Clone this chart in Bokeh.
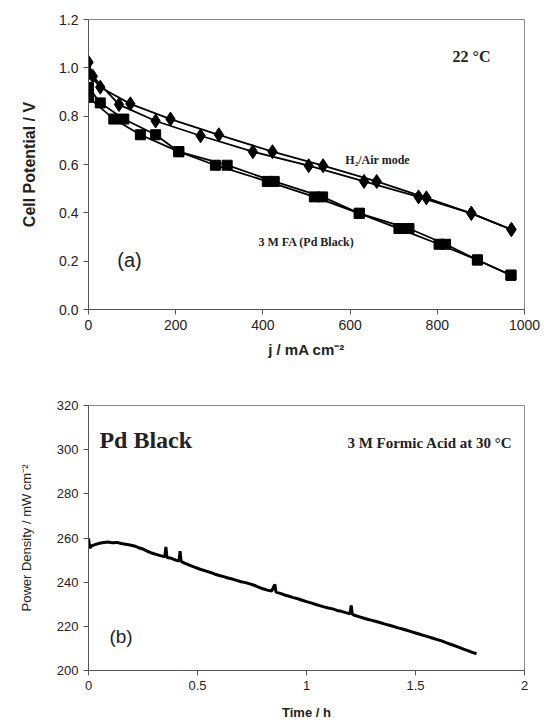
from bokeh.plotting import figure
from bokeh.layouts import column
from bokeh.models import Range1d, FixedTicker, Label
from bokeh.embed import file_html
from bokeh.resources import INLINE

# ---- panel (a) data: polarization curves ----
h2_j_a = [0, 27, 96, 188, 299, 422, 538, 661, 775, 878, 970]
h2_v_a = [0.977, 0.920, 0.851, 0.788, 0.723, 0.653, 0.595, 0.530, 0.462, 0.398, 0.331]
h2_j_b = [0, 10, 70, 154, 257, 377, 505, 632, 757, 878, 970]
h2_v_b = [1.023, 0.965, 0.848, 0.780, 0.719, 0.653, 0.595, 0.530, 0.466, 0.398, 0.331]

fa_j_a = [0, 27, 81, 154, 207, 318, 426, 537, 621, 735, 819, 892, 969]
fa_v_a = [0.919, 0.855, 0.788, 0.723, 0.653, 0.597, 0.530, 0.466, 0.398, 0.335, 0.270, 0.205, 0.142]
fa_j_b = [0, 58, 119, 207, 291, 410, 518, 621, 712, 804, 892, 969]
fa_v_b = [0.878, 0.788, 0.723, 0.653, 0.597, 0.530, 0.466, 0.398, 0.335, 0.270, 0.205, 0.142]

a_xticks = [0, 200, 400, 600, 800, 1000]
a_xlabels = ["0", "200", "400", "600", "800", "1000"]
a_yticks = [0.0, 0.2, 0.4, 0.6, 0.8, 1.0, 1.2]
a_ylabels = ["0.0", "0.2", "0.4", "0.6", "0.8", "1.0", "1.2"]

# ---- panel (b) data: power density vs time ----
time_h = [0.000, 0.006, 0.015, 0.03, 0.05, 0.07, 0.09, 0.11, 0.13, 0.15, 0.17, 0.19,
          0.21, 0.23, 0.25, 0.27, 0.29, 0.31, 0.33, 0.35, 0.355, 0.36, 0.38, 0.40,
          0.415, 0.42, 0.425, 0.44, 0.46, 0.48, 0.50, 0.52, 0.54, 0.56, 0.58, 0.60,
          0.62, 0.64, 0.66, 0.68, 0.70, 0.72, 0.74, 0.76, 0.78, 0.80, 0.82, 0.84,
          0.855, 0.86, 0.88, 0.90, 0.92, 0.94, 0.96, 0.98, 1.00, 1.02, 1.04, 1.06,
          1.08, 1.10, 1.12, 1.14, 1.16, 1.18, 1.20, 1.205, 1.21, 1.22, 1.24, 1.26,
          1.28, 1.30, 1.32, 1.34, 1.36, 1.38, 1.40, 1.42, 1.44, 1.46, 1.48, 1.50,
          1.52, 1.54, 1.56, 1.58, 1.60, 1.62, 1.64, 1.66, 1.68, 1.70, 1.72, 1.74,
          1.76, 1.78]
power = [259.8, 255.5, 256.5, 257.0, 257.6, 258.0, 258.2, 257.8, 258.0, 257.5, 257.2, 256.8,
         256.4, 255.6, 255.0, 254.0, 253.2, 252.6, 252.0, 251.5, 256.0, 251.2, 250.8, 250.0,
         249.6, 254.0, 249.4, 248.6, 247.8, 247.0, 246.3, 245.6, 245.0, 244.4, 243.6, 243.0,
         242.5, 241.9, 241.4, 240.8, 240.2, 239.8, 239.2, 238.6, 237.8, 237.0, 236.4, 236.0,
         239.0, 235.5, 234.9, 234.2, 233.6, 233.0, 232.5, 231.8, 231.2, 230.6, 230.0, 229.4,
         228.8, 228.3, 227.9, 227.2, 226.8, 226.2, 225.7, 229.5, 225.5, 225.0, 224.4, 223.8,
         223.2, 222.7, 222.2, 221.6, 221.0, 220.5, 219.9, 219.3, 218.8, 218.2, 217.6, 217.0,
         216.4, 215.8, 215.2, 214.6, 214.0, 213.4, 212.6, 211.9, 211.2, 210.5, 209.7, 209.0,
         208.2, 207.6]

b_xticks = [0, 0.5, 1, 1.5, 2]
b_xlabels = ["0", "0.5", "1", "1.5", "2"]
b_yticks = [200, 220, 240, 260, 280, 300, 320]
b_ylabels = ["200", "220", "240", "260", "280", "300", "320"]

SANS = "Liberation Sans"
SERIF = "Liberation Serif"
AXC = "#555555"
TXT = "#222222"


def style(p, xt, xl, yt, yl, label_size):
    p.outline_line_color = "#888888"
    p.outline_line_width = 1
    p.xgrid.visible = False
    p.ygrid.visible = False
    for ax in (p.xaxis[0], p.yaxis[0]):
        ax.axis_line_color = AXC
        ax.major_tick_line_color = AXC
        ax.major_tick_in = 0
        ax.major_tick_out = 5
        ax.minor_tick_line_color = None
        ax.major_label_text_font = SANS
        ax.major_label_text_font_size = label_size
        ax.major_label_text_color = TXT
        ax.axis_label_text_font = SANS
        ax.axis_label_text_color = TXT
        ax.axis_label_text_font_style = "bold"
    p.xaxis[0].ticker = FixedTicker(ticks=xt)
    p.xaxis[0].major_label_overrides = {t: l for t, l in zip(xt, xl)}
    p.yaxis[0].ticker = FixedTicker(ticks=yt)
    p.yaxis[0].major_label_overrides = {t: l for t, l in zip(yt, yl)}


# ---------------- panel (a) ----------------
pa = figure(width=544, height=360, output_backend="svg", toolbar_location=None,
            x_range=Range1d(0, 1000), y_range=Range1d(0, 1.2),
            min_border_left=88, min_border_right=20, min_border_top=19, min_border_bottom=45)
style(pa, a_xticks, a_xlabels, a_yticks, a_ylabels, "14px")
pa.xaxis[0].axis_label = "j / mA cm⁻²"
pa.xaxis[0].axis_label_text_font_size = "15px"
pa.xaxis[0].axis_label_standoff = 8
pa.yaxis[0].axis_label = "Cell Potential / V"
pa.yaxis[0].axis_label_text_font_size = "16px"
pa.yaxis[0].axis_label_standoff = 18

for xs, ys in ((h2_j_a, h2_v_a), (h2_j_b, h2_v_b)):
    pa.line(xs, ys, line_color="black", line_width=1.8)
    pa.scatter(xs, ys, marker="diamond", size=14, fill_color="black", line_color="black")
for xs, ys in ((fa_j_a, fa_v_a), (fa_j_b, fa_v_b)):
    pa.line(xs, ys, line_color="black", line_width=1.8)
    pa.scatter(xs, ys, marker="square", size=10, fill_color="black", line_color="black")

pa.add_layout(Label(x=835, y=1.046, text="22 °C", text_font=SERIF, text_font_style="bold",
                    text_font_size="16px", text_baseline="middle", text_color=TXT))
pa.add_layout(Label(x=589, y=0.62, text="H₂/Air mode", text_font=SERIF, text_font_style="bold",
                    text_font_size="12px", text_baseline="middle", text_color=TXT))
pa.add_layout(Label(x=390, y=0.28, text="3 M FA (Pd Black)", text_font=SERIF, text_font_style="bold",
                    text_font_size="12px", text_baseline="middle", text_color=TXT))
pa.add_layout(Label(x=66, y=0.203, text="(a)", text_font=SANS,
                    text_font_size="20px", text_baseline="middle", text_color=TXT))

# ---------------- panel (b) ----------------
pb = figure(width=544, height=364, output_backend="svg", toolbar_location=None,
            x_range=Range1d(0, 2), y_range=Range1d(200, 320),
            min_border_left=88, min_border_right=16, min_border_top=45, min_border_bottom=54)
style(pb, b_xticks, b_xlabels, b_yticks, b_ylabels, "13px")
pb.xaxis[0].axis_label = "Time / h"
pb.xaxis[0].axis_label_text_font_size = "13px"
pb.xaxis[0].axis_label_standoff = 12
pb.yaxis[0].axis_label = "Power Density / mW cm⁻²"
pb.yaxis[0].axis_label_text_font_size = "13px"
pb.yaxis[0].axis_label_text_font_style = "normal"
pb.yaxis[0].axis_label_standoff = 20

pb.line(time_h, power, line_color="black", line_width=3)

pb.add_layout(Label(x=0.05, y=304.2, text="Pd Black", text_font=SERIF, text_font_style="bold",
                    text_font_size="24px", text_baseline="middle", text_color=TXT))
pb.add_layout(Label(x=1.945, y=302.8, text="3 M Formic Acid at 30 °C", text_font=SERIF,
                    text_font_style="bold", text_font_size="15px", text_baseline="middle",
                    text_align="right", text_color=TXT))
pb.add_layout(Label(x=0.096, y=215.5, text="(b)", text_font=SANS,
                    text_font_size="19px", text_baseline="middle", text_color=TXT))

layout = column(pa, pb, spacing=0)
open("out.html", "w").write(file_html(layout, INLINE))
